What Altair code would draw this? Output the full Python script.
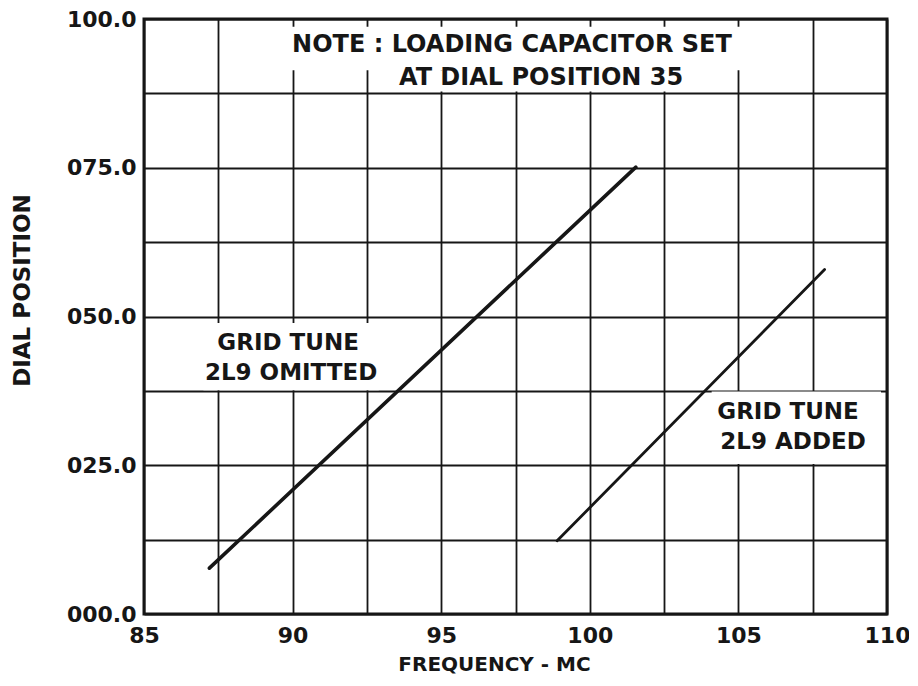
import altair as alt
import pandas as pd

# Data
series = ["2L9 OMITTED", "2L9 OMITTED", "2L9 ADDED", "2L9 ADDED"]
freq = [87.2, 101.55, 98.9, 107.9]
dial = [7.7, 75.1, 12.3, 57.9]
widths = [3.6, 3.6, 2.8, 2.8]

x_grid = [85, 87.5, 90, 92.5, 95, 97.5, 100, 102.5, 105, 107.5, 110]
y_grid = [0, 12.5, 25, 37.5, 50, 62.5, 75, 87.5, 100]

note_text = ["NOTE : LOADING CAPACITOR SET", "AT DIAL POSITION 35",
             "GRID TUNE", "2L9 OMITTED", "GRID TUNE", "2L9 ADDED"]
note_x = [97.38, 98.36, 89.85, 89.95, 106.67, 106.84]
note_y = [95.6, 90.1, 45.5, 40.5, 33.9, 28.9]
note_size = [24, 24, 23, 23, 23, 23]

# white masks behind the lettering (data coordinates)
mask_x = [89.8, 92.6, 87.0, 104.1]
mask_x2 = [105.2, 104.0, 92.9, 109.8]
mask_y = [91.4, 87.8, 37.6, 25.2]
mask_y2 = [98.7, 91.4, 48.9, 37.4]

FONT = "DejaVu Sans"
INK = "#161616"

lines_df = pd.DataFrame({"series": series, "freq": freq, "dial": dial, "w": widths})
text_df = pd.DataFrame({"t": note_text, "x": note_x, "y": note_y, "s": note_size})
mask_df = pd.DataFrame({"x": mask_x, "x2": mask_x2, "y": mask_y, "y2": mask_y2})

xscale = alt.Scale(domain=[85, 110], nice=False, zero=False)
yscale = alt.Scale(domain=[0, 100], nice=False)

xaxis = alt.Axis(
    values=x_grid, grid=True, gridColor=INK, gridWidth=1.8, gridOpacity=1,
    ticks=False, tickSize=0, domain=False,
    labelExpr="datum.value % 5 == 0 ? datum.label : ''",
    labelFont=FONT, labelFontWeight="bold", labelFontSize=22, labelColor=INK,
    labelPadding=11, labelFlush=False,
    title="FREQUENCY - MC", titleFont=FONT, titleFontWeight="bold",
    titleFontSize=20, titleColor=INK, titleX=350, titleY=50,
    titleBaseline="middle", titleAlign="center",
)
yaxis = alt.Axis(
    values=y_grid, grid=True, gridColor=INK, gridWidth=1.8, gridOpacity=1,
    ticks=False, tickSize=0, domain=False,
    labelExpr="datum.value % 25 == 0 ? pad(format(datum.value, '.1f'), 5, '0', 'left') : ''",
    labelFont=FONT, labelFontWeight="bold", labelFontSize=22, labelColor=INK,
    labelPadding=8, labelBaseline="middle", labelFlush=False,
    title="DIAL  POSITION", titleFont=FONT, titleFontWeight="bold",
    titleFontSize=23, titleColor=INK, titleX=-122, titleY=271,
    titleBaseline="middle", titleAlign="center", titleAngle=-90,
)

masks = alt.Chart(mask_df).mark_rect(color="white").encode(
    x=alt.X("x:Q", scale=xscale, axis=xaxis),
    x2="x2:Q",
    y=alt.Y("y:Q", scale=yscale, axis=yaxis),
    y2="y2:Q",
)

lines = alt.Chart(lines_df).mark_line(color=INK, strokeCap="round").encode(
    x=alt.X("freq:Q", scale=xscale),
    y=alt.Y("dial:Q", scale=yscale),
    detail="series:N",
    strokeWidth=alt.StrokeWidth("w:Q", scale=None, legend=None),
)

labels = alt.Chart(text_df).mark_text(
    font=FONT, fontWeight="bold", color=INK, align="center", baseline="middle"
).encode(
    x=alt.X("x:Q", scale=xscale),
    y=alt.Y("y:Q", scale=yscale),
    text="t:N",
    size=alt.Size("s:Q", scale=None, legend=None),
)

chart = alt.layer(masks, lines, labels).properties(
    width=743, height=595,
    autosize="none",
    padding={"left": 136, "top": 11, "right": 22, "bottom": 62},
    background="white",
).configure_view(stroke=INK, strokeWidth=3)

chart.save("out.html", embed_options={"renderer": "svg", "actions": False})
